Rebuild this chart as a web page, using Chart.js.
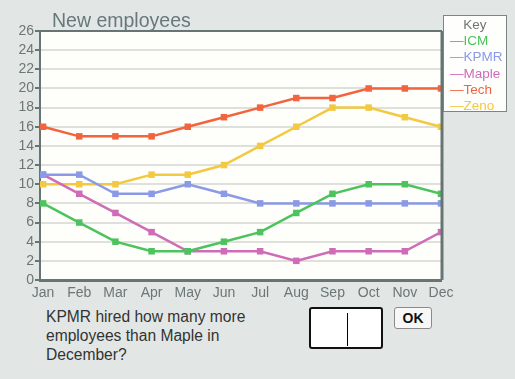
<!DOCTYPE html>
<html><head><meta charset="utf-8">
<script src="https://cdn.jsdelivr.net/npm/chart.js@4.4.1/dist/chart.umd.min.js"></script>
<style>
html,body{margin:0;padding:0;background:#e2e7e5;width:515px;height:379px;overflow:hidden;font-family:"Liberation Sans",Arial,sans-serif;}
#wrap{position:absolute;left:0;top:0;width:515px;height:300px;}
#legend{position:absolute;left:443px;top:15px;width:62px;height:95px;border:1px solid #7a8686;background:#fefefd;font-size:13.5px;line-height:16.2px;}
#legend .k{text-align:center;color:#6e7676;margin-top:1px;}
#legend .e{padding-left:6px;white-space:nowrap;}
#q{position:absolute;left:46px;top:307px;width:250px;font-size:15.6px;line-height:19px;color:#333;}
#box{position:absolute;left:309px;top:307px;width:70px;height:38px;border:2px solid #111;border-radius:3px;background:#fff;}
#cur{position:absolute;left:36px;top:4px;width:1px;height:33px;background:#000;}
#ok{position:absolute;left:394px;top:307px;width:36px;height:20px;border:1px solid #8a8a8a;border-radius:3px;background:#f7f7f7;font-weight:bold;font-size:14px;line-height:20px;text-align:center;color:#111;}
</style></head><body>
<div id="wrap"><canvas id="c" width="515" height="300"></canvas></div>
<div id="legend"></div>
<div id="q">KPMR hired how many more employees than Maple in December?</div>
<div id="box"><div id="cur"></div></div>
<div id="ok">OK</div>
<script>
const months = ["Jan","Feb","Mar","Apr","May","Jun","Jul","Aug","Sep","Oct","Nov","Dec"];
const seriesNames = ["ICM","KPMR","Maple","Tech","Zeno"];
const icm   = [8,6,4,3,3,4,5,7,9,10,10,9];
const kpmr  = [11,11,9,9,10,9,8,8,8,8,8,8];
const maple = [11,9,7,5,3,3,3,2,3,3,3,5];
const tech  = [16,15,15,15,16,17,18,19,19,20,20,20];
const zeno  = [10,10,10,11,11,12,14,16,18,18,17,16];
const yTicks = [0,2,4,6,8,10,12,14,16,18,20,22,24,26];
const colors = ["#4cc35c","#8a9ae6","#cf6cb8","#f2643e","#f2c940"];
const values = [icm,kpmr,maple,tech,zeno];

const leg = document.getElementById('legend');
leg.innerHTML = '<div class="k">Key</div>' + seriesNames.map((n,i)=>'<div class="e" style="color:'+colors[i]+'">\u2014'+n+'</div>').join('');

const datasets = seriesNames.map((n,i)=>({
  label:n,
  data: values[i].map((v,j)=>({x:j,y:v})),
  borderColor: colors[i],
  backgroundColor: colors[i],
  borderWidth: 2.5,
  pointStyle: 'rect',
  pointRadius: 4.6,
  pointBorderWidth: 0,
  tension: 0
}));
const frame = {
  id:'frame',
  beforeDraw(chart){
    const {ctx, chartArea:a} = chart;
    ctx.save();
    ctx.fillStyle = '#fefefb';
    ctx.fillRect(a.left, a.top, a.right-a.left, a.bottom-a.top);
    ctx.restore();
  },
  afterDatasetsDraw(chart){
    const {ctx, chartArea:a} = chart;
    ctx.save();
    ctx.strokeStyle = '#667474';
    ctx.lineWidth = 2;
    ctx.beginPath(); ctx.moveTo(a.left, a.top); ctx.lineTo(a.right+1, a.top); ctx.stroke();
    ctx.lineWidth = 3;
    ctx.beginPath(); ctx.moveTo(a.right+1, a.top); ctx.lineTo(a.right+1, a.bottom); ctx.stroke();
    ctx.fillStyle = '#66787a';
    ctx.font = '19.5px "Liberation Sans", Arial, sans-serif';
    ctx.textBaseline = 'alphabetic';
    ctx.fillText('New employees', 52, 27);
    ctx.restore();
  }
};
new Chart(document.getElementById('c'), {
  type:'line',
  data:{datasets},
  plugins:[frame],
  options:{
    responsive:false, animation:false,
    layout:{padding:{left:0,right:74,top:31,bottom:0}},
    plugins:{legend:{display:false}, tooltip:{enabled:false}, title:{display:false}},
    scales:{
      x:{type:'linear', min:-0.085, max:11,
        afterBuildTicks(s){ s.ticks = months.map((m,i)=>({value:i})); },
        afterFit(s){ s.height = 20; },
        grid:{display:false, drawTicks:false},
        border:{color:'#667474', width:3},
        ticks:{color:'#6c7676', font:{size:14, family:'"Liberation Sans", Arial, sans-serif'}, padding:5, maxRotation:0, autoSkip:false,
          callback:(v)=>months[v]}
      },
      y:{min:0, max:26,
        afterBuildTicks(s){ s.ticks = yTicks.map(v=>({value:v})); },
        afterFit(s){ s.width = 40; },
        grid:{color:'#dfdfdb', lineWidth:2, tickColor:'#667474', tickLength:5, tickWidth:2, drawTicks:true},
        border:{color:'#667474', width:2},
        ticks:{color:'#6c7676', font:{size:14, family:'"Liberation Sans", Arial, sans-serif'}, padding:1, autoSkip:false}
      }
    }
  }
});
</script>
</body></html>
